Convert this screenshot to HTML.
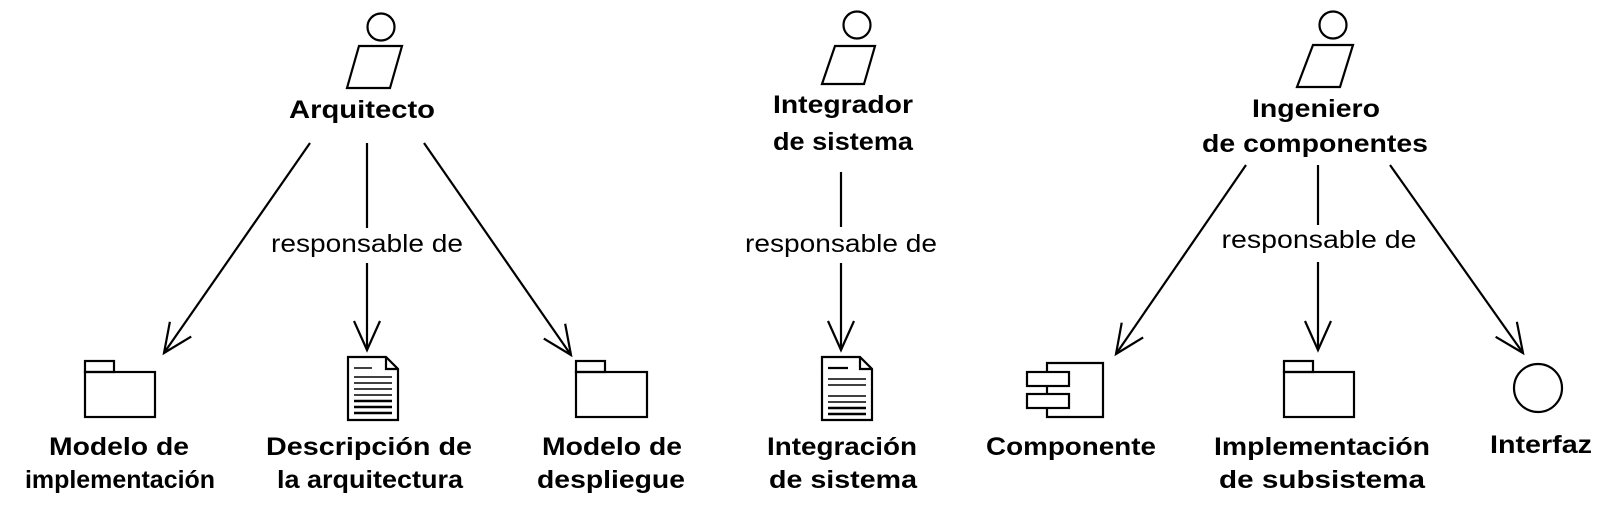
<!DOCTYPE html>
<html><head><meta charset="utf-8"><style>
html,body{margin:0;padding:0;background:#fff;}
svg{display:block;}
.b{font-family:"Liberation Sans",Arial,sans-serif;font-weight:bold;font-size:25px;fill:#000;}
.r{font-family:"Liberation Sans",Arial,sans-serif;font-size:25px;fill:#000;}
</style></head><body>
<svg width="1603" height="508" viewBox="0 0 1603 508" xmlns="http://www.w3.org/2000/svg">
<defs>
<marker id="a" markerUnits="userSpaceOnUse" markerWidth="34" markerHeight="34" viewBox="-2 -16 34 32" refX="29" refY="0" orient="auto">
<path d="M0,-13 L29,0 L0,13" fill="none" stroke="#000" stroke-width="2.2"/>
</marker>
</defs>
<g fill="none" stroke="#000" stroke-width="2.2">
<circle cx="381" cy="27" r="13.5"/><polygon points="359,46 402,46 390,88 347,88"/>
<circle cx="857" cy="25" r="13.5"/><polygon points="835,46 875,46 864,84 822,84"/>
<circle cx="1333" cy="25" r="13.5"/><polygon points="1313,45 1353,45 1340,87 1297,87"/>
<line x1="310" y1="143" x2="164" y2="353" marker-end="url(#a)"/>
<line x1="367" y1="143" x2="367" y2="228"/>
<line x1="367" y1="263" x2="367" y2="350" marker-end="url(#a)"/>
<line x1="424" y1="143" x2="571" y2="355" marker-end="url(#a)"/>
<line x1="841" y1="172" x2="841" y2="227"/>
<line x1="841" y1="263" x2="841" y2="350" marker-end="url(#a)"/>
<line x1="1246" y1="165" x2="1116" y2="354" marker-end="url(#a)"/>
<line x1="1318" y1="165" x2="1318" y2="225"/>
<line x1="1318" y1="262" x2="1318" y2="350" marker-end="url(#a)"/>
<line x1="1390" y1="165" x2="1523" y2="353" marker-end="url(#a)"/>
<rect x="85" y="372" width="70" height="45"/><rect x="85" y="361" width="29" height="11"/>
<rect x="576" y="372" width="71" height="45"/><rect x="576" y="361" width="29" height="11"/>
<rect x="1284" y="372" width="70" height="45"/><rect x="1284" y="361" width="29" height="11"/>
<path d="M348,357 L386,357 L398,369 L398,420 L348,420 Z M386,357 L386,369 L398,369"/>
<path d="M822,357 L860,357 L872,369 L872,420 L822,420 Z M860,357 L860,369 L872,369"/>
<path d="M1047,372 L1047,363 L1103,363 L1103,417 L1047,417 L1047,408 M1047,386 L1047,394"/>
<rect x="1027" y="372" width="42" height="14"/><rect x="1027" y="394" width="42" height="14"/>
<circle cx="1538" cy="388" r="24"/>
</g>
<g stroke="#000" stroke-width="1.6">
<line x1="354" y1="368" x2="372" y2="368"/>
<line x1="354" y1="377" x2="392" y2="377"/><line x1="354" y1="383" x2="392" y2="383"/>
<line x1="354" y1="389" x2="392" y2="389"/><line x1="354" y1="395" x2="392" y2="395"/>
<line x1="354" y1="401" x2="392" y2="401" stroke-width="2.4"/><line x1="354" y1="407" x2="392" y2="407" stroke-width="2.4"/>
<line x1="354" y1="413" x2="392" y2="413" stroke-width="2.4"/>
<line x1="828" y1="368" x2="848" y2="368" stroke-width="2.2"/>
<line x1="828" y1="379" x2="866" y2="379"/><line x1="828" y1="385" x2="866" y2="385"/>
<line x1="828" y1="396" x2="866" y2="396"/><line x1="828" y1="402" x2="866" y2="402"/>
<line x1="828" y1="408" x2="866" y2="408" stroke-width="2.4"/><line x1="828" y1="414" x2="866" y2="414" stroke-width="2.4"/>
</g>
<g text-anchor="middle">
<text class="b" x="362" y="118" textLength="146" lengthAdjust="spacingAndGlyphs">Arquitecto</text>
<text class="b" x="843" y="113" textLength="140" lengthAdjust="spacingAndGlyphs">Integrador</text>
<text class="b" x="843" y="150" textLength="140" lengthAdjust="spacingAndGlyphs">de sistema</text>
<text class="b" x="1316" y="117" textLength="128" lengthAdjust="spacingAndGlyphs">Ingeniero</text>
<text class="b" x="1315" y="152" textLength="226" lengthAdjust="spacingAndGlyphs">de componentes</text>
<text class="r" x="367" y="252" textLength="192" lengthAdjust="spacingAndGlyphs">responsable de</text>
<text class="r" x="841" y="252" textLength="192" lengthAdjust="spacingAndGlyphs">responsable de</text>
<text class="r" x="1319" y="248" textLength="195" lengthAdjust="spacingAndGlyphs">responsable de</text>
<text class="b" x="119" y="455" textLength="140" lengthAdjust="spacingAndGlyphs">Modelo de</text>
<text class="b" x="120" y="488" textLength="190" lengthAdjust="spacingAndGlyphs">implementación</text>
<text class="b" x="369" y="455" textLength="206" lengthAdjust="spacingAndGlyphs">Descripción de</text>
<text class="b" x="370" y="488" textLength="186" lengthAdjust="spacingAndGlyphs">la arquitectura</text>
<text class="b" x="612" y="455" textLength="140" lengthAdjust="spacingAndGlyphs">Modelo de</text>
<text class="b" x="611" y="488" textLength="148" lengthAdjust="spacingAndGlyphs">despliegue</text>
<text class="b" x="842" y="455" textLength="150" lengthAdjust="spacingAndGlyphs">Integración</text>
<text class="b" x="843" y="488" textLength="148" lengthAdjust="spacingAndGlyphs">de sistema</text>
<text class="b" x="1071" y="455" textLength="170" lengthAdjust="spacingAndGlyphs">Componente</text>
<text class="b" x="1322" y="455" textLength="216" lengthAdjust="spacingAndGlyphs">Implementación</text>
<text class="b" x="1322" y="488" textLength="206" lengthAdjust="spacingAndGlyphs">de subsistema</text>
<text class="b" x="1541" y="453" textLength="102" lengthAdjust="spacingAndGlyphs">Interfaz</text>
</g>
</svg>
</body></html>
